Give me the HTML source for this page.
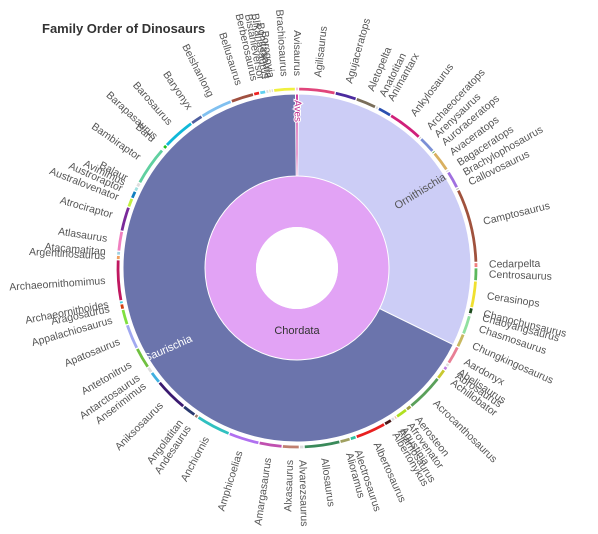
<!DOCTYPE html>
<html><head><meta charset="utf-8"><style>
html,body{margin:0;padding:0;background:#fff;}
svg{display:block;font-family:"Liberation Sans",sans-serif;}
</style></head><body>
<svg id="chart" width="598" height="534" viewBox="0 0 598 534">
<text x="42" y="33" font-size="13" font-weight="bold" fill="#333">Family Order of Dinosaurs</text>
</svg>
<script>
const orderNames = ["Aves","Ornithischia","Saurischia"];
const orderColors = ["#d23fa0","#cccdf6","#6b74ac"];
const leafNames = ["Avisaurus",
"Agilisaurus","Agujaceratops","Aletopelta","Anatotitan","Animantarx","Ankylosaurus","Archaeoceratops","Arenysaurus","Auroraceratops","Avaceratops","Bagaceratops","Brachylophosaurus","Callovosaurus","Camptosaurus","Cedarpelta","Centrosaurus","Cerasinops","Chanochunsaurus","Chaoyangsaurus","Chasmosaurus","Chungkingosaurus",
"Aardonyx","Abelisaurus","Abrosaurus","Achillobator","Acrocanthosaurus","Aerosteon","Afrovenator","Agustinia","Alamosaurus","Albertonykus","Albertosaurus","Alectrosaurus","Alioramus","Allosaurus","Alvarezsaurus","Alxasaurus","Amargasaurus","Amphicoelias","Anchiornis","Andesaurus","Angolatitan","Aniksosaurus","Anserimimus","Antarctosaurus","Antetonitrus","Apatosaurus","Appalachiosaurus","Aragosaurus","Archaeornithoides","Archaeornithomimus","Argentinosaurus","Atacamatitan","Atlasaurus","Atrociraptor","Australovenator","Austroraptor","Avimimus","Balaur","Bambiraptor","Baru","Barapasaurus","Barosaurus","Baryonyx","Beishanlong","Bellusaurus","Berberosaurus","Bistahieversor","Blikanasaurus","Bonitasaura","Borogovia","Brachiosaurus"];
const leafValues = [1,
11.8,7,6.7,1,4.5,11.5,0.7,5.6,0.7,6.7,0.8,5.8,0.8,24,1.7,4.2,8.7,2,0.6,6.2,4.5,
6,1.2,1.3,3.4,12.4,1.8,3.9,0.8,1.2,2.5,10,2,3.4,11.6,1.5,5.5,7.5,10,11.3,1.2,4.5,11,4,2,7,8.2,5.1,1.8,1,13.2,1.4,1.3,6.5,8,3,2.5,1.5,1.5,12.8,0.7,1.3,10.7,4,10.5,7.5,2,2,1,0.7,0.8,7];
const leafOrder = [0,
1,1,1,1,1,1,1,1,1,1,1,1,1,1,1,1,1,1,1,1,1,
2,2,2,2,2,2,2,2,2,2,2,2,2,2,2,2,2,2,2,2,2,2,2,2,2,2,2,2,2,2,2,2,2,2,2,2,2,2,2,2,2,2,2,2,2,2,2,2,2,2,2];
const leafColors = ["#f0c0e0",
"#e0457b","#4b2a9e","#7a6e5a","#dddddd","#2a4fb0","#d0207a","#cccccc","#7b8fd6","#6aa84f","#d9b060","#dddddd","#a070e0","#bbbbbb","#a0523d","#f08080","#5cb85c","#f0e030","#1e4d1e","#cccccc","#90e0a0","#c8b860",
"#e87f95","#dddddd","#c080e0","#c8c830","#5aa05a","#a0a040","#b0e020","#f0c0a0","#dddddd","#4a1a1a","#e82020","#30c0a0","#a0a060","#3a8a5a","#dddddd","#c08070","#c050b0","#b070f0","#30c0c0","#a08070","#2a3a70","#3a1a70","#40b0e0","#dddddd","#70c040","#a0a8f0","#80e040","#d04010","#40d0e0","#c01860","#f0a060","#a0d0e0","#f080c0","#7a2a9a","#c0f040","#1080c0","#a0e0e0","#dddddd","#60d0a0","#eeeeee","#20c020","#10b8d8","#5060a0","#80c0f0","#a05040","#f02020","#60d0f0","#dddddd","#e0e090","#dddddd","#f0f040"];

const svg = document.getElementById('chart');
const NS = "http://www.w3.org/2000/svg";
const cx = 297, cy = 268, startAngle = -0.5;
const total = leafValues.reduce((a,b)=>a+b,0);
const angleOf = v => startAngle + v / total * 360;
function pt(r, a){ const t = a*Math.PI/180; return [cx + r*Math.sin(t), cy - r*Math.cos(t)]; }
function arc(r0, r1, a0, a1){
  const large = (a1-a0) > 180 ? 1 : 0;
  const p0 = pt(r1,a0), p1 = pt(r1,a1), p2 = pt(r0,a1), p3 = pt(r0,a0);
  return `M${p0[0]},${p0[1]} A${r1},${r1} 0 ${large} 1 ${p1[0]},${p1[1]} L${p2[0]},${p2[1]} A${r0},${r0} 0 ${large} 0 ${p3[0]},${p3[1]} Z`;
}
function mk(tag, attrs){ const e = document.createElementNS(NS, tag); for (const k in attrs) e.setAttribute(k, attrs[k]); svg.appendChild(e); return e; }

const root = mk('circle', {cx:cx, cy:cy, r:66.5, fill:'none', stroke:'#e2a3f5', 'stroke-width':51});


const rootLbl = mk('text', {x:cx, y:334, 'font-size':11, fill:'#333', 'text-anchor':'middle'});
rootLbl.textContent = 'Chordata';



const orderSums = orderNames.map((_,i)=>leafValues.reduce((s,v,j)=>s+(leafOrder[j]===i?v:0),0));
let acc = 0;
const labelQueue = [];
orderNames.forEach((name,i)=>{
  const a0 = angleOf(acc), a1 = angleOf(acc + orderSums[i]); acc += orderSums[i];
  const p = mk('path', {d:arc(92,174,a0,a1), fill:orderColors[i], stroke:'#fff', 'stroke-width':1});
  
  
  labelQueue.push([name, (a0+a1)/2]);
});

mk('circle', {cx:cx, cy:cy, r:41, fill:'#fff'});

labelQueue.forEach(([name, mid])=>{
  let t;
  if (name === 'Aves') {
    const q = pt(157, mid);
    t = mk('text', {x:q[0], y:q[1], 'font-size':10, fill:'#c0308f', stroke:'#fff', 'stroke-width':2, 'paint-order':'stroke', 'text-anchor':'middle', 'dominant-baseline':'middle', transform:`rotate(90 ${q[0]} ${q[1]})`});
  } else if (name === 'Ornithischia') {
    const q = pt(145, mid);
    t = mk('text', {x:q[0], y:q[1], 'font-size':11, fill:'#555', 'text-anchor':'middle', 'dominant-baseline':'middle', transform:`rotate(${mid-90} ${q[0]} ${q[1]})`});
  } else {
    const q = pt(152, mid);
    t = mk('text', {x:q[0], y:q[1], 'font-size':11, fill:'#fff', 'text-anchor':'middle', 'dominant-baseline':'middle', transform:`rotate(-24 ${q[0]} ${q[1]})`});
  }
  t.textContent = name;
  
  
});

acc = 0;
leafNames.forEach((name,i)=>{
  const a0 = angleOf(acc), a1 = angleOf(acc + leafValues[i]); acc += leafValues[i];
  const p = mk('path', {d:arc(177,181,a0,a1), fill:leafColors[i], stroke:'#fff', 'stroke-width':1.2});
  
  
  let mid = ((a0+a1)/2 + 360) % 360;
  const q = pt(192, mid);
  const right = mid > 0.01 && mid < 180;
  const t = mk('text', {x:q[0], y:q[1], 'font-size':10.5, fill:'#555', 'text-anchor': right?'start':'end', 'dominant-baseline':'middle',
    transform:`rotate(${right? mid-90 : mid+90} ${q[0]} ${q[1]})`});
  t.textContent = name;
  
  
});
</script>
</body></html>
